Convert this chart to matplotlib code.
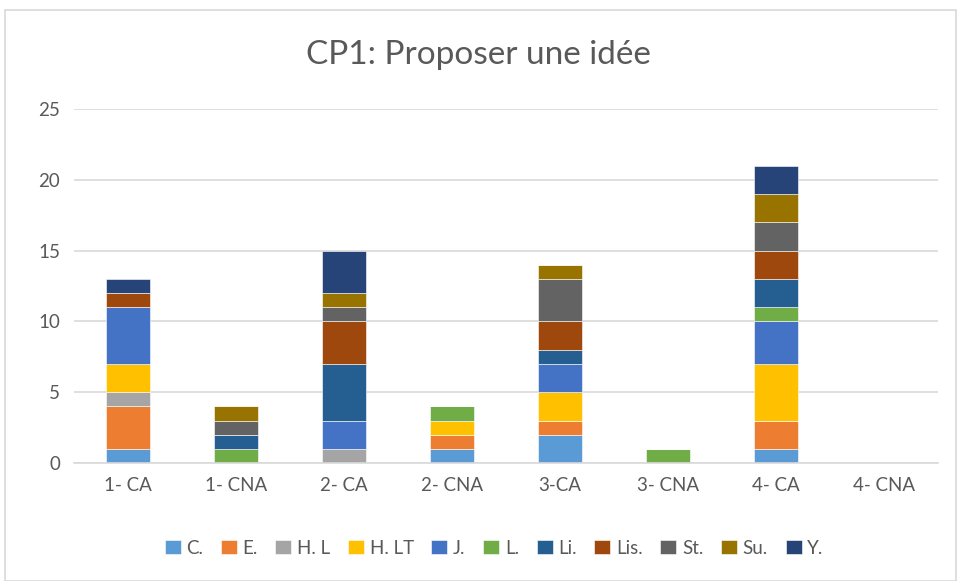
import matplotlib.pyplot as plt
import numpy as np
from matplotlib.patches import Rectangle

categories = ['1- CA', '1- CNA', '2- CA', '2- CNA', '3-CA', '3- CNA', '4- CA', '4- CNA']
series = ['C.', 'E.', 'H. L', 'H. LT', 'J.', 'L.', 'Li.', 'Lis.', 'St.', 'Su.', 'Y.']
colors = ['#5b9bd5', '#ed7d31', '#a5a5a5', '#ffc000', '#4472c4', '#70ad47',
          '#255e91', '#9e480e', '#636363', '#997300', '#264478']

C_ = [1, 0, 0, 1, 2, 0, 1, 0]
E_ = [3, 0, 0, 1, 1, 0, 2, 0]
HL = [1, 0, 1, 0, 0, 0, 0, 0]
HLT = [2, 0, 0, 1, 2, 0, 4, 0]
J_ = [4, 0, 2, 0, 2, 0, 3, 0]
L_ = [0, 1, 0, 1, 0, 1, 1, 0]
Li = [0, 1, 4, 0, 1, 0, 2, 0]
Lis = [1, 0, 3, 0, 2, 0, 2, 0]
St = [0, 1, 1, 0, 3, 0, 2, 0]
Su = [0, 1, 1, 0, 1, 0, 2, 0]
Y_ = [1, 0, 3, 0, 0, 0, 2, 0]
values = [C_, E_, HL, HLT, J_, L_, Li, Lis, St, Su, Y_]

plt.rcParams['font.family'] = ['Lato', 'DejaVu Sans']
fig = plt.figure(figsize=(9.57, 5.81), dpi=100)
fig.patches.append(Rectangle((5/957, 0.0), 1 - 6/957, 1 - 10/581, transform=fig.transFigure,
                             fill=False, edgecolor='#d9d9d9', lw=1.2))
ax = fig.add_axes([74/957, 118/581, 864/957, 354/581])

x = np.arange(len(categories))
bottom = np.zeros(len(categories))
for name, vals, col in zip(series, values, colors):
    v = np.array(vals, dtype=float)
    ax.bar(x, v, 0.4, bottom=bottom, color=col, label=name, edgecolor='white', linewidth=0.4)
    bottom += v

ax.set_ylim(0, 25)
ax.set_xlim(-0.5, len(categories) - 0.5)
ax.set_yticks(range(0, 26, 5))
ax.set_xticks(x)
ax.set_xticklabels(categories)
ax.yaxis.grid(True, color='#d9d9d9', lw=1.2)
ax.set_axisbelow(True)
for s in ['top', 'right', 'left']:
    ax.spines[s].set_visible(False)
ax.spines['bottom'].set_color('#d9d9d9')
ax.spines['bottom'].set_linewidth(1.2)
ax.tick_params(length=0, colors='#595959', labelsize=13.5, pad=10)

fig.text(0.5, 1 - 55/581, 'CP1: Proposer une idée', ha='center', va='center',
         fontsize=24, color='#595959')
fig.legend(loc='center', bbox_to_anchor=(494/957, 1 - 548/581),
           ncol=11, frameon=False, fontsize=13.5, handlelength=0.85, handleheight=0.85,
           handletextpad=0.3, columnspacing=0.95, labelcolor='#595959')

fig.savefig('out.png', dpi=100)
